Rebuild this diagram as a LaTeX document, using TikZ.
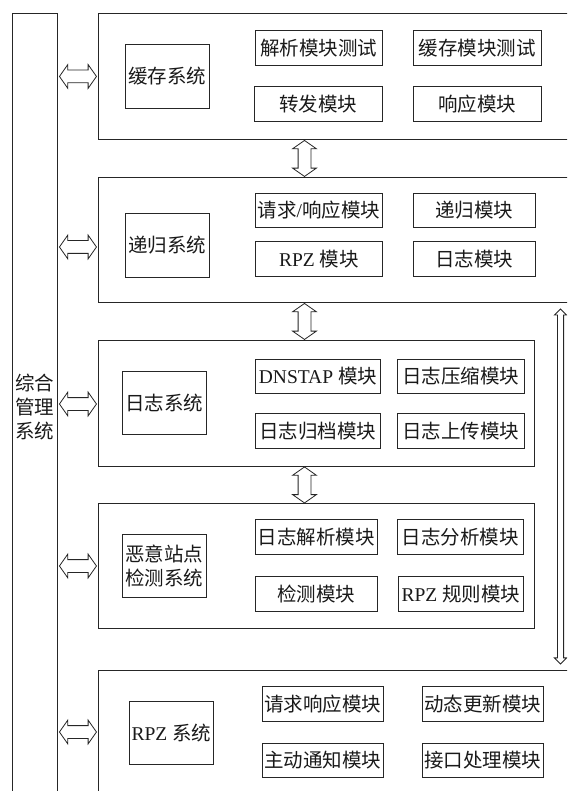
\documentclass[tikz,border=0pt]{standalone}
\usepackage{fontspec}
\setmainfont{Noto Sans CJK SC}
\newfontfamily\lat{Liberation Serif}
\usetikzlibrary{shapes.arrows,calc}
\tikzset{
  boxbase/.style={draw=black!85, line width=0.9pt, anchor=north west, inner sep=0pt,
    font=\fontsize{19.5}{24}\selectfont, text=black!90, align=center},
  outerbox/.style={boxbase},
  sysbox/.style={boxbase},
  modbox/.style={boxbase},
  arrbase/.style={double arrow, draw=black!85, line width=0.8pt, fill=white},
  harrow/.style={arrbase, inner sep=6pt, minimum height=37pt, double arrow head extend=5.5pt, double arrow tip angle=110},
  varrow/.style={harrow, rotate=90, minimum height=36pt},
  rarrow/.style={arrbase, rotate=90, inner sep=2.7pt, minimum height=355pt, double arrow head extend=3pt, double arrow tip angle=90}
}
\begin{document}
\begin{tikzpicture}[x=1pt,y=-1pt]
\useasboundingbox (0,0) rectangle (567,791);
\clip (0,0) rectangle (567,791);
% management column
\node[outerbox, minimum width=45pt, minimum height=787pt] (mgr) at (12,13) {综合\\管理\\系统};
% outer system boxes
\node[outerbox, minimum width=482pt, minimum height=126pt] (cacheo) at (98,13) {};
\node[outerbox, minimum width=482pt, minimum height=125pt] (reco) at (98,177) {};
\node[outerbox, minimum width=436pt, minimum height=126pt] (logo) at (98,340) {};
\node[outerbox, minimum width=436pt, minimum height=125pt] (malo) at (98,503) {};
\node[outerbox, minimum width=482pt, minimum height=140pt] (rpzo) at (98,670) {};
% system boxes
\node[sysbox, minimum width=84pt, minimum height=64pt] (cachesys) at (125,44) {缓存系统};
\node[sysbox, minimum width=84pt, minimum height=64pt] (recsys) at (125,213) {递归系统};
\node[sysbox, minimum width=84pt, minimum height=63pt] (logsys) at (122,371) {日志系统};
\node[sysbox, minimum width=84pt, minimum height=63pt] (malsys) at (122,534) {恶意站点\\检测系统};
\node[sysbox, minimum width=84pt, minimum height=63pt] (rpzsys) at (129,701) {{\lat RPZ }系统};
% cache modules
\node[modbox, minimum width=127pt, minimum height=35pt] (c1) at (255,30) {解析模块测试};
\node[modbox, minimum width=128pt, minimum height=35pt] (c2) at (413,30) {缓存模块测试};
\node[modbox, minimum width=128pt, minimum height=35pt] (c3) at (254,86) {转发模块};
\node[modbox, minimum width=128pt, minimum height=35pt] (c4) at (413,86) {响应模块};
% recursion modules
\node[modbox, minimum width=127pt, minimum height=34pt] (r1) at (255,193) {请求{\lat /}响应模块};
\node[modbox, minimum width=122pt, minimum height=34pt] (r2) at (413,193) {递归模块};
\node[modbox, minimum width=127pt, minimum height=35pt] (r3) at (255,241) {{\lat RPZ }模块};
\node[modbox, minimum width=122pt, minimum height=35pt] (r4) at (413,241) {日志模块};
% log modules
\node[modbox, minimum width=125pt, minimum height=34pt] (l1) at (255,359) {{\lat DNSTAP }模块};
\node[modbox, minimum width=127pt, minimum height=34pt] (l2) at (397,359) {日志压缩模块};
\node[modbox, minimum width=125pt, minimum height=35pt] (l3) at (255,413) {日志归档模块};
\node[modbox, minimum width=127pt, minimum height=35pt] (l4) at (397,413) {日志上传模块};
% malicious site modules
\node[modbox, minimum width=122pt, minimum height=35pt] (m1) at (255,519) {日志解析模块};
\node[modbox, minimum width=126pt, minimum height=35pt] (m2) at (397,519) {日志分析模块};
\node[modbox, minimum width=122pt, minimum height=35pt] (m3) at (255,576) {检测模块};
\node[modbox, minimum width=125pt, minimum height=35pt] (m4) at (398,576) {{\lat RPZ }规则模块};
% rpz modules
\node[modbox, minimum width=121pt, minimum height=35pt] (p1) at (262,686) {请求响应模块};
\node[modbox, minimum width=121pt, minimum height=35pt] (p2) at (422,686) {动态更新模块};
\node[modbox, minimum width=121pt, minimum height=34pt] (p3) at (262,743) {主动通知模块};
\node[modbox, minimum width=121pt, minimum height=34pt] (p4) at (422,743) {接口处理模块};
% horizontal double arrows
\path (mgr.east |- cachesys.center) -- (cacheo.west |- cachesys.center) node[midway, harrow] (a1) {};
\path (mgr.east |- 0,247) -- (reco.west |- 0,247) node[midway, harrow] (a2) {};
\path (mgr.east |- 0,404) -- (logo.west |- 0,404) node[midway, harrow] (a3) {};
\path (mgr.east |- 0,566) -- (malo.west |- 0,566) node[midway, harrow] (a4) {};
\path (mgr.east |- 0,732) -- (rpzo.west |- 0,732) node[midway, harrow] (a5) {};
% vertical double arrows
\path (cacheo.south -| 304.5,0) -- (reco.north -| 304.5,0) node[midway, varrow] (v1) {};
\path (reco.south -| 304.5,0) -- (logo.north -| 304.5,0) node[midway, varrow] (v2) {};
\path (logo.south -| 304.5,0) -- (malo.north -| 304.5,0) node[midway, varrow] (v3) {};
% right long arrow
\path (reco.south -| 560.5,0) -- (rpzo.north -| 560.5,0) node[midway, rarrow] (v4) {};
\end{tikzpicture}
\end{document}
